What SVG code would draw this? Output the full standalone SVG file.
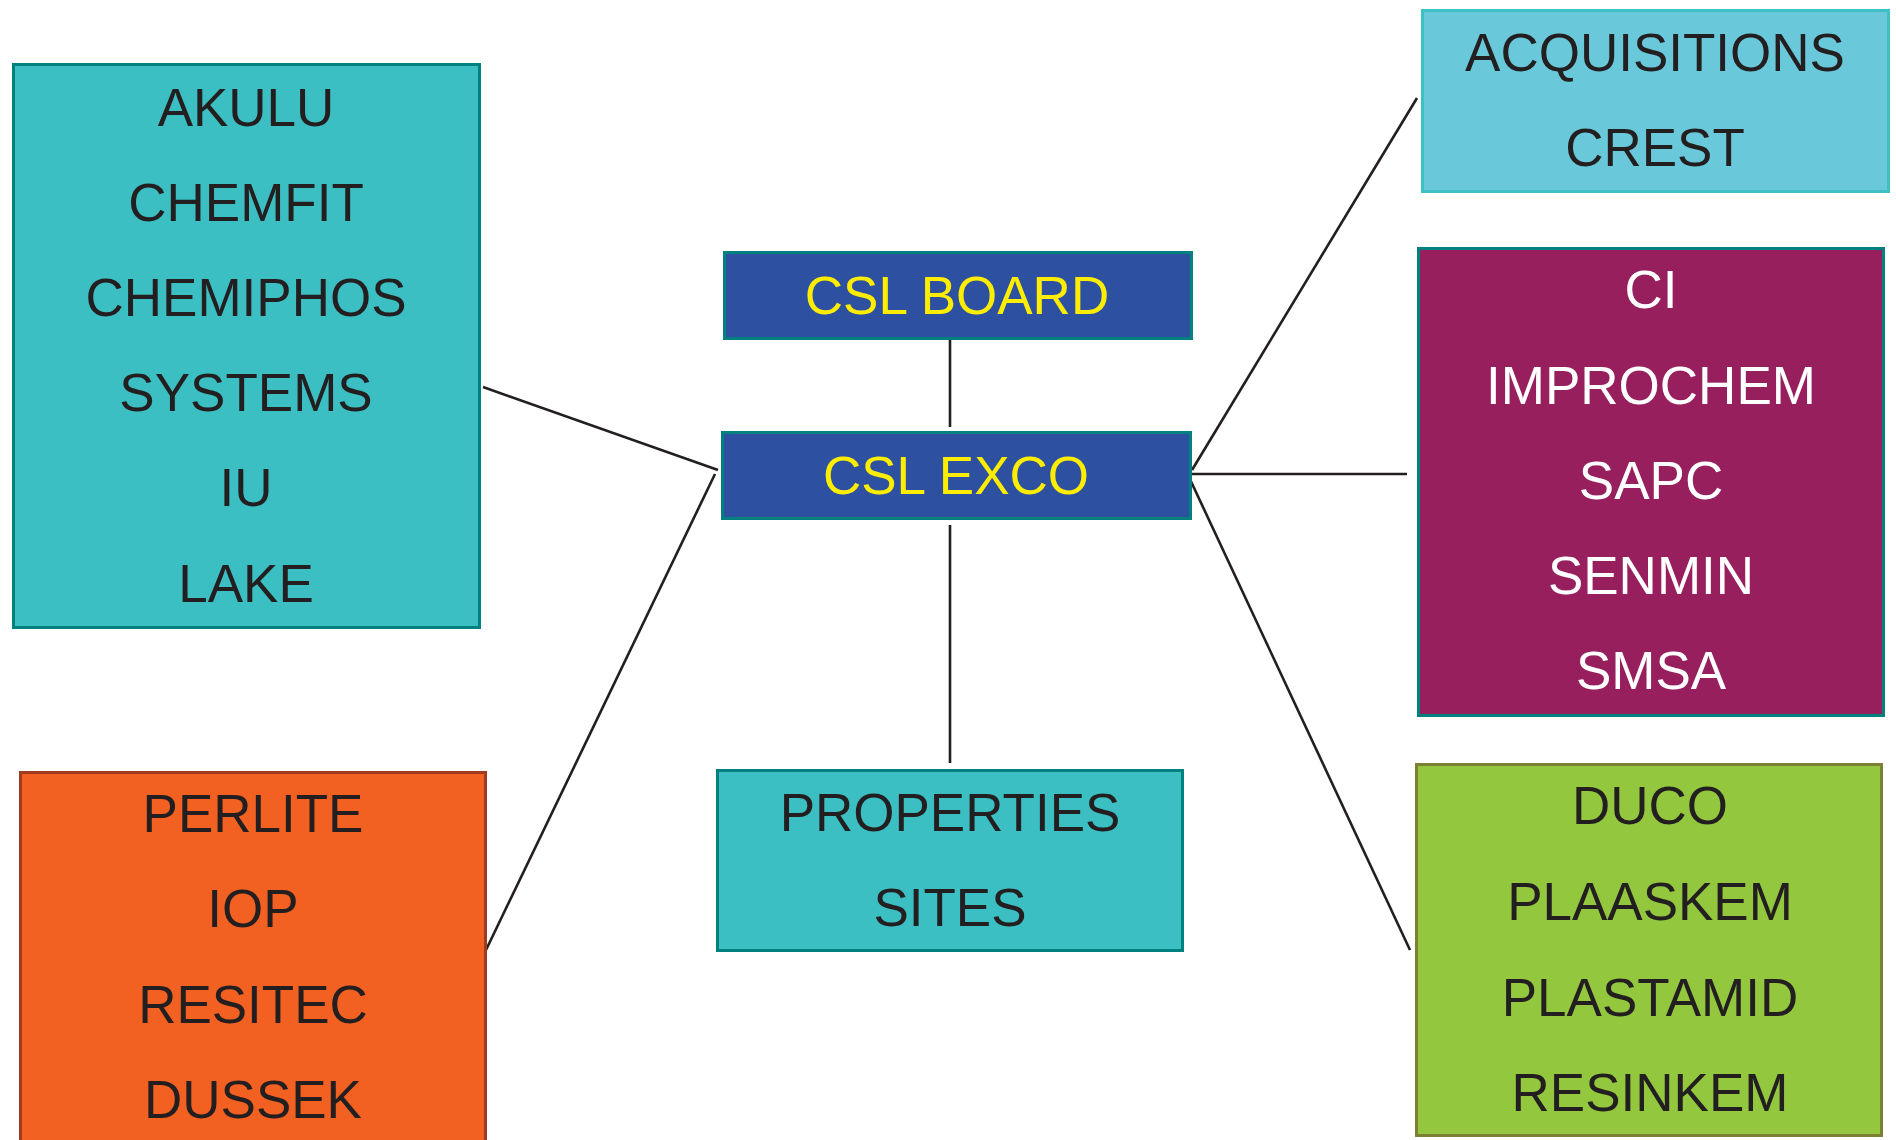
<svg xmlns="http://www.w3.org/2000/svg" width="1896" height="1140" viewBox="0 0 1896 1140">
<style>
  .box { stroke-width: 3; }
  .lbl { font-family: "Liberation Sans", Arial, sans-serif; font-size: 53px; text-anchor: middle; }
  .dark { fill: #231F20; }
  .yellow { fill: #FFED00; }
  .white { fill: #FFFFFF; }
  .conn line { stroke: #231F20; stroke-width: 2.6; fill: none; }
</style>
<rect width="1896" height="1140" fill="#FFFFFF"/>

<g id="connectors" class="conn">
  <line x1="950" y1="340" x2="950" y2="427"/>
  <line x1="950" y1="525" x2="950" y2="763"/>
  <line x1="483" y1="387" x2="718" y2="470"/>
  <line x1="715" y1="474" x2="486" y2="950"/>
  <line x1="1192" y1="470" x2="1417" y2="98"/>
  <line x1="1188" y1="474" x2="1407" y2="474"/>
  <line x1="1188" y1="475" x2="1410" y2="950"/>
</g>

<g id="node-left-group">
  <rect class="box" x="13.5" y="64.5" width="466" height="563" fill="#3CBFC3" stroke="#00807F"/>
  <text class="lbl dark" x="246" y="126">AKULU</text>
  <text class="lbl dark" x="246" y="221">CHEMFIT</text>
  <text class="lbl dark" x="246" y="316">CHEMIPHOS</text>
  <text class="lbl dark" x="246" y="411">SYSTEMS</text>
  <text class="lbl dark" x="246" y="506">IU</text>
  <text class="lbl dark" x="246" y="602">LAKE</text>
</g>

<g id="node-orange-group">
  <rect class="box" x="20.5" y="772.5" width="465" height="380" fill="#F26122" stroke="#A13B1F"/>
  <text class="lbl dark" x="253" y="832">PERLITE</text>
  <text class="lbl dark" x="253" y="927">IOP</text>
  <text class="lbl dark" x="253" y="1023">RESITEC</text>
  <text class="lbl dark" x="253" y="1118">DUSSEK</text>
</g>

<g id="node-csl-board">
  <rect class="box" x="724.5" y="252.5" width="467" height="86" fill="#2D50A0" stroke="#00807F"/>
  <text class="lbl yellow" x="957" y="314">CSL BOARD</text>
</g>

<g id="node-csl-exco">
  <rect class="box" x="722.5" y="432.5" width="468" height="86" fill="#2D50A0" stroke="#00807F"/>
  <text class="lbl yellow" x="956" y="494">CSL EXCO</text>
</g>

<g id="node-properties">
  <rect class="box" x="717.5" y="770.5" width="465" height="180" fill="#3CBFC3" stroke="#00807F"/>
  <text class="lbl dark" x="950" y="831">PROPERTIES</text>
  <text class="lbl dark" x="950" y="926">SITES</text>
</g>

<g id="node-acquisitions">
  <rect class="box" x="1422.5" y="10.5" width="466" height="181" fill="#69C9DB" stroke="#3EC1C5"/>
  <text class="lbl dark" x="1655" y="71">ACQUISITIONS</text>
  <text class="lbl dark" x="1655" y="166">CREST</text>
</g>

<g id="node-magenta-group">
  <rect class="box" x="1418.5" y="248.5" width="465" height="467" fill="#981F5E" stroke="#00807F"/>
  <text class="lbl white" x="1651" y="308">CI</text>
  <text class="lbl white" x="1651" y="404">IMPROCHEM</text>
  <text class="lbl white" x="1651" y="499">SAPC</text>
  <text class="lbl white" x="1651" y="594">SENMIN</text>
  <text class="lbl white" x="1651" y="689">SMSA</text>
</g>

<g id="node-green-group">
  <rect class="box" x="1416.5" y="764.5" width="465" height="371" fill="#93C83E" stroke="#7D7F35"/>
  <text class="lbl dark" x="1650" y="824">DUCO</text>
  <text class="lbl dark" x="1650" y="920">PLAASKEM</text>
  <text class="lbl dark" x="1650" y="1016">PLASTAMID</text>
  <text class="lbl dark" x="1650" y="1111">RESINKEM</text>
</g>
</svg>
